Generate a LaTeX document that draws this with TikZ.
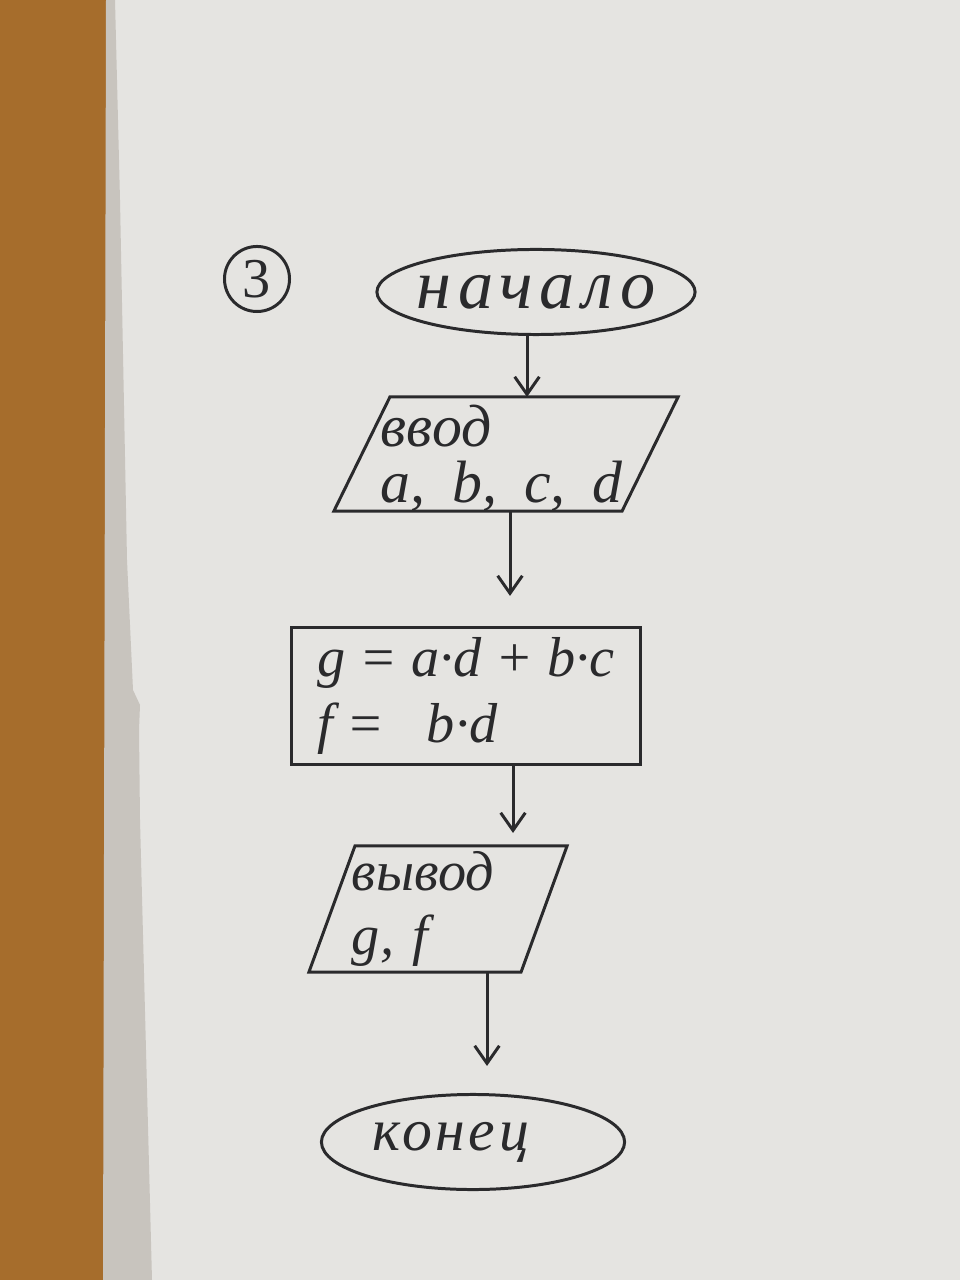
\documentclass[tikz,border=0pt]{standalone}
\usepackage{fontspec}
\setmainfont{Liberation Serif}
\usetikzlibrary{arrows.meta,calc,shapes.geometric}
\definecolor{ink}{HTML}{2A2A2C}
\definecolor{paper}{HTML}{E5E4E1}
\definecolor{wood}{HTML}{A66D2C}
\definecolor{edgegray}{HTML}{C8C4BE}
\begin{document}
\begin{tikzpicture}[x=0.01cm,y=-0.01cm,
  line/.style={draw=ink, line width=0.85pt},
  arr/.style={draw=ink, line width=0.85pt, -{Straight Barb[length=5pt,width=7pt,line width=0.85pt]}},
  ink text/.style={text=ink, inner sep=0pt},
  termin/.style={ellipse, line, ink text},
  iobox/.style={ink text, outer sep=0pt, align=left},
  procbox/.style={line, ink text, align=left}
]
\useasboundingbox (0,0) rectangle (960,1280);
% background
\fill[paper] (0,0) rectangle (960,1280);
\fill[wood] (0,0) rectangle (106,1280);
\fill[edgegray] (106,0) -- (115,0) -- (120,200) -- (127,560) -- (133,690) -- (140,705) -- (139,730) -- (140,820) -- (146,1050) -- (152,1280) -- (103,1280) -- cycle;

% nodes
\node[circle, line, ink text, minimum size=0.65cm, font=\fontsize{16}{18}\selectfont] (num) at (257,279) {3};
\node[termin, minimum width=3.18cm, minimum height=0.85cm, font=\itshape\fontsize{20}{22}\selectfont] (start) at (536,292) {\makebox[1.8cm]{\addfontfeature{LetterSpace=10}начало}};
\node[iobox, text width=2.5cm, minimum width=2.88cm, minimum height=1.14cm, font=\itshape\fontsize{17}{16}\selectfont] (in) at (506,458) {ввод\\a,\hspace{0.45em}b,\hspace{0.45em}c,\hspace{0.45em}d};
\draw[line] ($(in.north west)+(28,-4)$) -- ($(in.north east)+(28,-4)$) -- ($(in.south east)+(-28,-4)$) -- ($(in.south west)+(-28,-4)$) -- cycle;
\node[procbox, minimum width=3.48cm, minimum height=1.37cm, font=\itshape\fontsize{16}{19}\selectfont] (proc) at (466,696) {g = a·d + b·c\\f =~~ b·d};
\node[iobox, text width=1.72cm, minimum width=2.12cm, minimum height=1.26cm, font=\itshape\fontsize{16}{18}\selectfont] (out) at (438,909) {вывод\\g, f};
\draw[line] ($(out.north west)+(23,0)$) -- ($(out.north east)+(23,0)$) -- ($(out.south east)+(-23,0)$) -- ($(out.south west)+(-23,0)$) -- cycle;
\node[termin, minimum width=3.03cm, minimum height=0.95cm, font=\itshape\fontsize{17}{19}\selectfont] (stop) at (473,1142) {\makebox[2.0cm][l]{\addfontfeature{LetterSpace=6}конец}};

% connectors
\draw[arr] ($(start.south)+(-9,0)$) -- ($(in.north)+(21,-4)$);
\draw[arr, shorten >=0.3cm] ($(in.south)+(4,-4)$) -- ($(proc.north)+(44,0)$);
\draw[arr, shorten >=0.13cm] ($(proc.south)+(47,0)$) -- ($(out.north)+(75,0)$);
\draw[arr, shorten >=0.27cm] ($(out.south)+(49,0)$) -- ($(stop.north)+(14,0)$);
\end{tikzpicture}
\end{document}
